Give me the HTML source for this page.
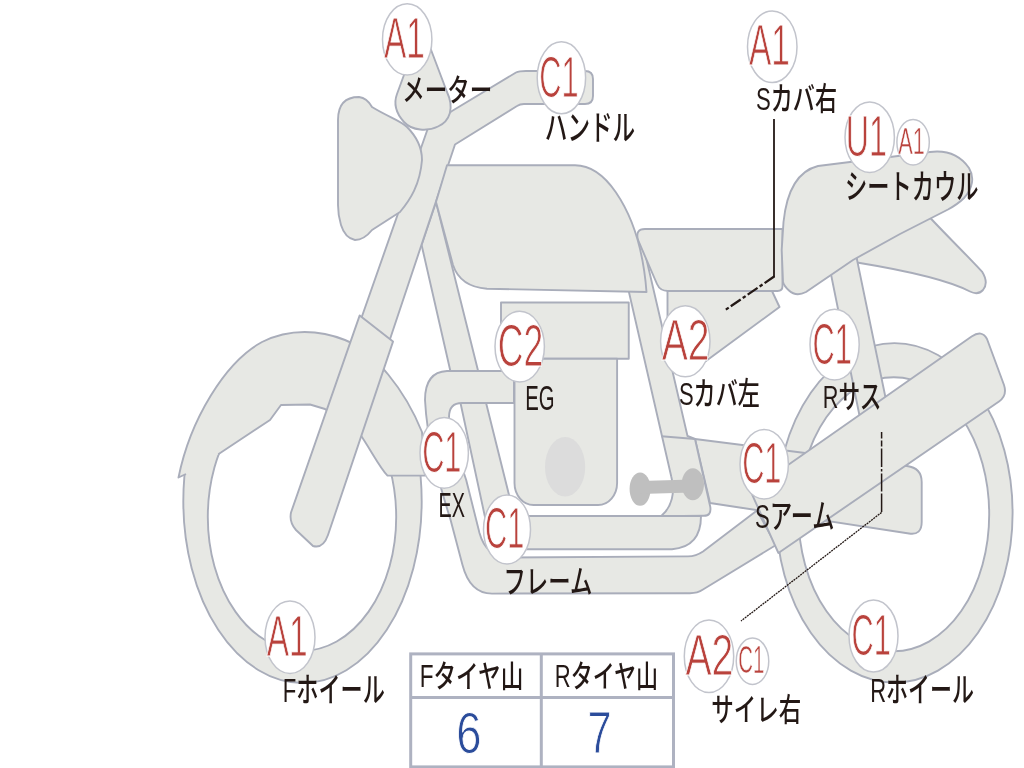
<!DOCTYPE html>
<html lang="ja"><head><meta charset="utf-8"><title>車両状態図</title>
<style>
html,body{margin:0;padding:0;background:#fff;}
body{width:1024px;height:768px;overflow:hidden;position:relative;}
svg{position:absolute;left:0;top:0;display:block;filter:blur(0.45px);}
.sh path{fill:#e7e8e4;stroke:#a9adba;stroke-width:1.9;stroke-linejoin:round;}
text{font-size:100px;}
.k{font-family:"Liberation Sans","Noto Sans CJK JP",sans-serif;fill:#231815;font-weight:500;}
.r{font-family:"Liberation Sans",sans-serif;fill:#b9423c;stroke:#ffffff;stroke-width:1.7px;}
.n{font-family:"Liberation Sans",sans-serif;fill:#2b4c9b;stroke:#ffffff;stroke-width:1.6px;}
</style></head><body>
<svg width="1024" height="768" viewBox="0 0 1024 768">
<rect width="1024" height="768" fill="#ffffff"/>
<g class="sh">
<path d="M776.1999999999999,512.8 A118.2,169.6 0 1 0 1012.6,512.8 A118.2,169.6 0 1 0 776.1999999999999,512.8 Z M798.4,514.2 A95.4,137 0 1 0 989.1999999999999,514.2 A95.4,137 0 1 0 798.4,514.2 Z" fill-rule="evenodd"/>
<path d="M856,250 L924,211 C938,227 962,250 982,271.6 Q989,283 983,290 Q978,295.5 970,291.5 C950,281 915,272 857,262.5 Z" />
<path d="M826.1,250 L855,250 L888.5,412 L861.4,425 Z" />
<path d="M695,439 L907,466 Q921.7,468 921.7,482 L921.7,522 Q921.7,535.5 909,533.5 L710,503 Z" />
<clipPath id="fwc"><path d="M0,453 H260 V472 H1024 V768 H0 Z"/></clipPath>
<path d="M183.3,501.3 A119.2,181.7 0 1 0 421.7,501.3 A119.2,181.7 0 1 0 183.3,501.3 Z M207.8,516.9 A94.2,134 0 1 0 396.2,516.9 A94.2,134 0 1 0 207.8,516.9 Z" fill-rule="evenodd" clip-path="url(#fwc)"/>
<path d="M186,474 L178.5,477.5 C190,420 225,362 262,342 C290,328 320,330 345,340 C375,352 405,390 422,432 L425,475.6 L387.5,475.6 C380,468 372,452 360.6,435 L325,409 L310,404.5 L281,405 L270,420 L218.3,454.3 L211,458 L206,480 L191,480 L189,474 Z" style="stroke:none"/>
<path d="M186,474 L178.5,477.5 C190,420 225,362 262,342 C290,328 320,330 345,340 C375,352 405,390 422,432 L425,475.6 L387.5,475.6 C380,468 372,452 360.6,435 L325,409 L310,404.5 L281,405 L270,420 L218.3,454.3" style="fill:none"/>
<path d="M617,240 L642,240 L687.5,436 L695,439 L710.3,507 Q711.5,515.8 704,515.8 L661,516.3 C672,507 675.5,492 671.2,476.2 Z" />
<path d="M661.5,436.2 L695,439" style="fill:none"/>
<path d="M500,516 L701,516 Q701,547 672,549.2 L500,549.2 Z" />
<path d="M421.6,245 L436,202 L512,507 L492.5,552 L460.5,403 L450.6,372 Z" />
<path d="M514,371 L447,371 Q425,372 425,400 C427,440 438,480 450.6,520 L462.5,565 Q470,593.6 492,593.6 L690,593.2 Q697.5,593.2 703,589.5 L776,545 L757,510.6 L703,551.5 Q696,556.3 688,556.4 L508,557.5 Q486,556.5 479.5,533 L466.2,480 C456,450 450,431 449,417 Q449,403 462,403 L514,403 Z" />
<path d="M750.6,491.2 L971.6,336.5 Q982,329.5 987,339 L1004,385 Q1007.5,395.5 999,401.5 L778.4,553 Z" />
<path d="M501,302.5 H628.75 V358.75 H501 Z" />
<path d="M514.5,358.75 H617.1 V483 A19,22 0 0 1 598.1,505 H533.5 A19,22 0 0 1 514.5,483 Z" />
<ellipse cx="565.1" cy="466.8" rx="20.1" ry="29.7" fill="#dcdcdc" stroke="none"/>
<path d="M667.5,291 L772,291 L779.5,307 L706,361 L667.5,352 Z" />
<path d="M645,229 H782.5 V286 Q782.5,291 777.5,291 H668 Q660,291 657,284 L638,240 Q635,229 645,229 Z" />
<path d="M783,282 L781.7,250 L783.5,222 C786,198 794,172 818,166 L930,152 C950,149.5 962,158 969,168 C974.5,177 973,188 964,198 Q958,204 948,209.5 L900,234 L853,260 L806,292 Q796,297 789,290.5 Q784,286 783,282 Z" />
<path d="M357.2,330 L428,128 L452,111 L516,72.5 Q519,71 526,71 L585,71 Q593,71 593,79 L593,96 Q593,104 585,104 L524,104 Q520,104 517,106 L455,144.5 L384.7,355 Z" />
<path d="M359.7,315.4 L393,341.6 L328,535 Q323,549 313,546 L296,530 Q289,522 291,512.5 Z" />
<path d="M447,165.3 H575 C592,165.3 606,178 616,192.5 C630,213 643,245 646.5,292 L487,288.7 C470,287.5 458,280 453,265 L436,202 Z" />
<path d="M338,120 Q338,97 359,97 Q367,98 372,107 C390,118 400,120 407,127 C418,138 422,148 422,160 C420,185 410,200 400,212 L372,230 Q364,240 355,240 Q345,238 341,225 Q338,215 338,205 Z" />
<path d="M422,26 L447,92 C454.5,108 450,121 438,126.5 C428,131.5 412,131 404,122 C395,112 394,102 397,94 Z" />
<g fill="#bfbfbf" stroke="none"><ellipse cx="640.1" cy="489.1" rx="10.5" ry="16.7"/><ellipse cx="692.8" cy="484.3" rx="11.2" ry="16"/><polygon points="640,481 692,479.6 692,492.4 640,494"/></g>
</g>
<g id="tbl" stroke="#aeb2c1" stroke-width="3" fill="none">
<rect x="410.7" y="653.9" width="262.8" height="113" fill="#ffffff"/>
<line x1="410.7" y1="697.4" x2="673.5" y2="697.4"/>
<line x1="541.3" y1="653.9" x2="541.3" y2="768"/>
</g>
<g id="ptr" fill="none" stroke="#231815">
<path d="M774,119 V277" stroke-width="1.8"/>
<path d="M774.5,276.3 L725.6,309.8" stroke-width="2.3" stroke-dasharray="12 2.5 3.5 2.5"/>
<path d="M881.6,432 V512.4" stroke-width="1.5" stroke-dasharray="6.5 2 6 2 18.5 2 2.5 2 18 2 18.5 2"/>
<path d="M881.6,512.4 L741,621" stroke-width="1.3" stroke-dasharray="2 0.8"/>
</g>
<g id="lab">
<ellipse cx="407.2" cy="39.4" rx="24.7" ry="35.6" fill="#ffffff" stroke="#c2c4cc" stroke-width="1.5"/>
<ellipse cx="561.4" cy="77.8" rx="24.2" ry="36" fill="#ffffff" stroke="#c2c4cc" stroke-width="1.5"/>
<ellipse cx="772.25" cy="46.7" rx="24.75" ry="35.8" fill="#ffffff" stroke="#c2c4cc" stroke-width="1.5"/>
<ellipse cx="869.7" cy="137.2" rx="24.7" ry="35.3" fill="#ffffff" stroke="#c2c4cc" stroke-width="1.5"/>
<ellipse cx="913.1" cy="142.2" rx="16.2" ry="22.8" fill="#ffffff" stroke="#c2c4cc" stroke-width="1.5"/>
<ellipse cx="519.7" cy="346.6" rx="24.7" ry="35.3" fill="#ffffff" stroke="#c2c4cc" stroke-width="1.5"/>
<ellipse cx="685.3" cy="341.25" rx="24.7" ry="35.6" fill="#ffffff" stroke="#c2c4cc" stroke-width="1.5"/>
<ellipse cx="834.6" cy="344.6" rx="24.6" ry="35.4" fill="#ffffff" stroke="#c2c4cc" stroke-width="1.5"/>
<ellipse cx="444.2" cy="452.9" rx="24.2" ry="35.4" fill="#ffffff" stroke="#c2c4cc" stroke-width="1.5"/>
<ellipse cx="764.2" cy="464.2" rx="24.2" ry="34.8" fill="#ffffff" stroke="#c2c4cc" stroke-width="1.5"/>
<ellipse cx="507" cy="529.5" rx="23.5" ry="34.5" fill="#ffffff" stroke="#c2c4cc" stroke-width="1.5"/>
<ellipse cx="290" cy="637.25" rx="25" ry="36.2" fill="#ffffff" stroke="#c2c4cc" stroke-width="1.5"/>
<ellipse cx="709" cy="656.25" rx="24.7" ry="36.25" fill="#ffffff" stroke="#c2c4cc" stroke-width="1.5"/>
<ellipse cx="752.5" cy="661.2" rx="16.25" ry="23.2" fill="#ffffff" stroke="#c2c4cc" stroke-width="1.5"/>
<ellipse cx="873.5" cy="636" rx="24.5" ry="36" fill="#ffffff" stroke="#c2c4cc" stroke-width="1.5"/>
</g>
<g id="txt">
<text class="k" transform="matrix(0.2251 0 0 0.3045 402.22 101.27)">メーター</text>
<text class="k" transform="matrix(0.2260 0 0 0.3458 544.82 140.47)">ハンドル</text>
<text class="k" transform="matrix(0.2213 0 0 0.3149 755.89 110.17)">Sカバ右</text>
<text class="k" transform="matrix(0.2225 0 0 0.3395 845.07 198.50)">シートカウル</text>
<text class="k" transform="matrix(0.2031 0 0 0.3521 525.28 409.65)">EG</text>
<text class="k" transform="matrix(0.2207 0 0 0.3143 678.90 404.91)">Sカバ左</text>
<text class="k" transform="matrix(0.2170 0 0 0.3129 822.76 408.22)">Rサス</text>
<text class="k" transform="matrix(0.1984 0 0 0.3594 438.41 516.50)">EX</text>
<text class="k" transform="matrix(0.2239 0 0 0.3195 503.47 593.12)">フレーム</text>
<text class="k" transform="matrix(0.2219 0 0 0.3241 755.09 527.78)">Sアーム</text>
<text class="k" transform="matrix(0.2216 0 0 0.3398 282.73 702.44)">Fホイール</text>
<text class="k" transform="matrix(0.2255 0 0 0.3128 711.15 720.99)">サイレ右</text>
<text class="k" transform="matrix(0.2200 0 0 0.3398 870.14 702.44)">Rホイール</text>
<text class="k" transform="matrix(0.2261 0 0 0.3111 419.69 686.51)">Fタイヤ山</text>
<text class="k" transform="matrix(0.2201 0 0 0.3077 554.74 686.54)">Rタイヤ山</text>
<text class="n" transform="matrix(0.4545 0 0 0.5797 456.27 752.50)">6</text>
<text class="n" transform="matrix(0.4318 0 0 0.5882 587.41 753.09)">7</text>
<text class="r" transform="matrix(0.3348 0 0 0.5746 383.93 58.17)">A1</text>
<text class="r" transform="matrix(0.3078 0 0 0.5826 539.35 96.70)">C1</text>
<text class="r" transform="matrix(0.3348 0 0 0.5746 748.98 65.47)">A1</text>
<text class="r" transform="matrix(0.3212 0 0 0.5779 845.81 156.20)">U1</text>
<text class="r" transform="matrix(0.2174 0 0 0.3731 898.27 154.07)">A1</text>
<text class="r" transform="matrix(0.3552 0 0 0.5971 497.87 366.20)">C2</text>
<text class="r" transform="matrix(0.3921 0 0 0.5779 661.72 359.63)">A2</text>
<text class="r" transform="matrix(0.3078 0 0 0.5826 812.55 363.50)">C1</text>
<text class="r" transform="matrix(0.3078 0 0 0.5826 422.15 471.80)">C1</text>
<text class="r" transform="matrix(0.3078 0 0 0.5826 742.15 483.10)">C1</text>
<text class="r" transform="matrix(0.3078 0 0 0.5826 484.95 548.40)">C1</text>
<text class="r" transform="matrix(0.3348 0 0 0.5746 266.73 656.02)">A1</text>
<text class="r" transform="matrix(0.3921 0 0 0.5779 685.42 674.63)">A2</text>
<text class="r" transform="matrix(0.2043 0 0 0.3797 738.17 673.10)">C1</text>
<text class="r" transform="matrix(0.3078 0 0 0.5826 851.45 654.90)">C1</text>
</g>
</svg>
</body></html>
